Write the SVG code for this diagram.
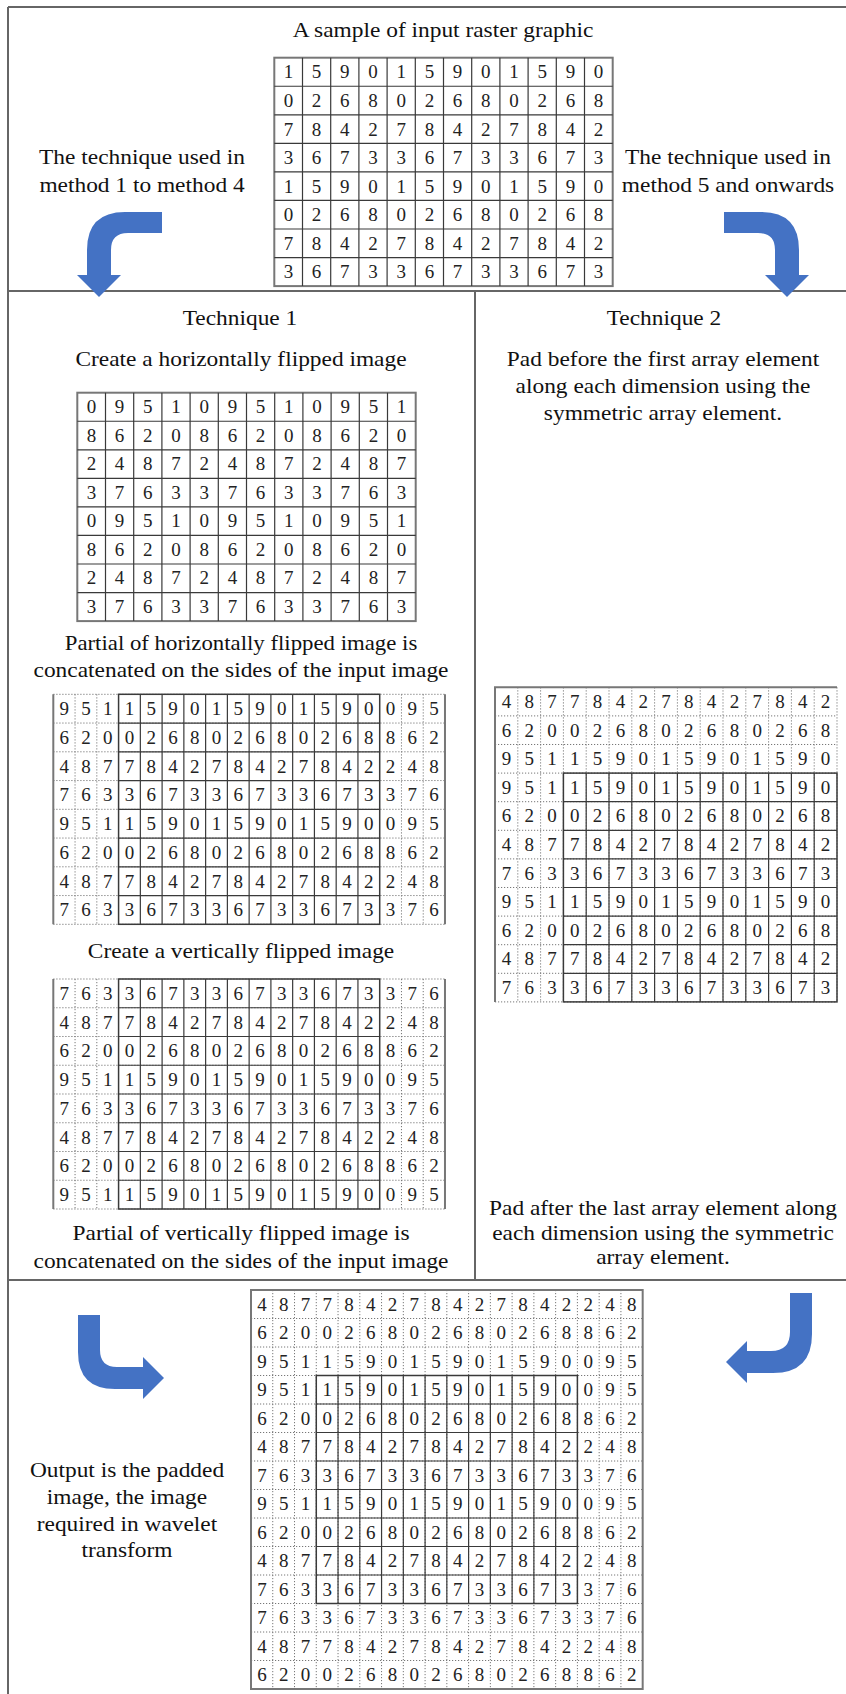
<svg xmlns="http://www.w3.org/2000/svg" xmlns:xlink="http://www.w3.org/1999/xlink" width="846" height="1694" viewBox="0 0 846 1694">
<style>
.t{font-family:"Liberation Serif","Times New Roman",serif;font-size:20px;fill:#111;text-anchor:middle}
.d{font-family:"Liberation Serif","Times New Roman",serif;font-size:19px;fill:#222;text-anchor:middle}
.fr{stroke:#666;stroke-width:2;fill:none}
.sl{stroke:#3a3a3a;stroke-width:1.2;fill:none}
.ob{stroke:#777;stroke-width:2;fill:none}
.dt{stroke:#777;stroke-width:1;stroke-dasharray:1.2 1.8;fill:none}
.ar{fill:#4472C4}
</style>
<defs>
<g id="g12">
<rect class="ob" x="0" y="0" width="338.4" height="228.4"/>
<path class="sl" d="M28.2 0V228.4M56.4 0V228.4M84.6 0V228.4M112.8 0V228.4M141 0V228.4M169.2 0V228.4M197.4 0V228.4M225.6 0V228.4M253.8 0V228.4M282 0V228.4M310.2 0V228.4M0 28.55H338.4M0 57.1H338.4M0 85.65H338.4M0 114.2H338.4M0 142.75H338.4M0 171.3H338.4M0 199.85H338.4"/>
</g>
<g id="g18">
<path class="dt" d="M0 0H391.68M0 28.75H391.68M0 57.5H391.68M0 86.25H391.68M0 115H391.68M0 143.75H391.68M0 172.5H391.68M0 201.25H391.68M0 230H391.68M21.76 0V230M43.52 0V230M348.16 0V230M369.92 0V230"/>
<rect class="sl" x="65.28" y="0" width="261.12" height="230" style="stroke-width:1.5"/>
<path class="sl" d="M87.04 0V230M108.8 0V230M130.56 0V230M152.32 0V230M174.08 0V230M195.84 0V230M217.6 0V230M239.36 0V230M261.12 0V230M282.88 0V230M304.64 0V230M65.28 28.75H326.4M65.28 57.5H326.4M65.28 86.25H326.4M65.28 115H326.4M65.28 143.75H326.4M65.28 172.5H326.4M65.28 201.25H326.4"/>
<path class="ob" d="M0 0V230M391.68 0V230"/>
</g>
</defs>

<g id="frame">
<path class="fr" d="M8 7H846M8 7V1694M8 291H846M8 1280H846M475 291V1280"/>
</g>

<g id="connectors">
<path class="ar" d="M162 212L125 212Q87 212 87 250L87 275L77 275L99 297L121 275L111 275L111 250Q111 233 128 233L162 233Z"/>
<path class="ar" d="M724 212L761 212Q799 212 799 250L799 275L809 275L787 297L765 275L775 275L775 250Q775 233 758 233L724 233Z"/>
<path class="ar" d="M78 1315L100 1315L100 1350Q100 1367 117 1367L143 1367L143 1357L164 1378L143 1399L143 1389L115 1389Q78 1389 78 1352Z"/>
<path class="ar" d="M812 1293L790 1293L790 1332Q790 1351 771 1351L747 1351L747 1341L726 1362L747 1383L747 1373L773 1373Q812 1373 812 1334Z"/>
</g>

<g id="input-raster">
<text class="t" transform="translate(443,37) scale(1.17,1)">A sample of input raster graphic</text>
<g transform="translate(274.3,57.7)">
<use xlink:href="#g12"/>
<text class="d" x="14.1 42.3 70.5 98.7 126.9 155.1 183.3 211.5 239.7 267.9 296.1 324.3" y="20.8">159015901590</text>
<text class="d" x="14.1 42.3 70.5 98.7 126.9 155.1 183.3 211.5 239.7 267.9 296.1 324.3" y="49.35">026802680268</text>
<text class="d" x="14.1 42.3 70.5 98.7 126.9 155.1 183.3 211.5 239.7 267.9 296.1 324.3" y="77.9">784278427842</text>
<text class="d" x="14.1 42.3 70.5 98.7 126.9 155.1 183.3 211.5 239.7 267.9 296.1 324.3" y="106.45">367336733673</text>
<text class="d" x="14.1 42.3 70.5 98.7 126.9 155.1 183.3 211.5 239.7 267.9 296.1 324.3" y="135">159015901590</text>
<text class="d" x="14.1 42.3 70.5 98.7 126.9 155.1 183.3 211.5 239.7 267.9 296.1 324.3" y="163.55">026802680268</text>
<text class="d" x="14.1 42.3 70.5 98.7 126.9 155.1 183.3 211.5 239.7 267.9 296.1 324.3" y="192.1">784278427842</text>
<text class="d" x="14.1 42.3 70.5 98.7 126.9 155.1 183.3 211.5 239.7 267.9 296.1 324.3" y="220.65">367336733673</text>
</g>
</g>

<g id="label-left">
<text class="t" transform="translate(142,164) scale(1.17,1)">The technique used in</text>
<text class="t" transform="translate(142,192) scale(1.17,1)">method 1 to method 4</text>
</g>
<g id="label-right">
<text class="t" transform="translate(728,164) scale(1.17,1)">The technique used in</text>
<text class="t" transform="translate(728,192) scale(1.17,1)">method 5 and onwards</text>
</g>

<g id="technique1-hflip">
<text class="t" transform="translate(240,325) scale(1.17,1)">Technique 1</text>
<text class="t" transform="translate(241,366) scale(1.17,1)">Create a horizontally flipped image</text>
<g transform="translate(77.3,392.7)">
<use xlink:href="#g12"/>
<text class="d" x="14.1 42.3 70.5 98.7 126.9 155.1 183.3 211.5 239.7 267.9 296.1 324.3" y="20.8">095109510951</text>
<text class="d" x="14.1 42.3 70.5 98.7 126.9 155.1 183.3 211.5 239.7 267.9 296.1 324.3" y="49.3">862086208620</text>
<text class="d" x="14.1 42.3 70.5 98.7 126.9 155.1 183.3 211.5 239.7 267.9 296.1 324.3" y="77.8">248724872487</text>
<text class="d" x="14.1 42.3 70.5 98.7 126.9 155.1 183.3 211.5 239.7 267.9 296.1 324.3" y="106.3">376337633763</text>
<text class="d" x="14.1 42.3 70.5 98.7 126.9 155.1 183.3 211.5 239.7 267.9 296.1 324.3" y="134.8">095109510951</text>
<text class="d" x="14.1 42.3 70.5 98.7 126.9 155.1 183.3 211.5 239.7 267.9 296.1 324.3" y="163.3">862086208620</text>
<text class="d" x="14.1 42.3 70.5 98.7 126.9 155.1 183.3 211.5 239.7 267.9 296.1 324.3" y="191.8">248724872487</text>
<text class="d" x="14.1 42.3 70.5 98.7 126.9 155.1 183.3 211.5 239.7 267.9 296.1 324.3" y="220.3">376337633763</text>
</g>
</g>

<g id="technique1-hconcat">
<text class="t" transform="translate(241,650) scale(1.14,1)">Partial of horizontally flipped image is</text>
<text class="t" transform="translate(241,677) scale(1.17,1)">concatenated on the sides of the input image</text>
<g transform="translate(53.3,694.3)">
<use xlink:href="#g18"/>
<text class="d" x="10.88 32.64 54.4 76.16 97.92 119.68 141.44 163.2 184.96 206.72 228.48 250.24 272 293.76 315.52 337.28 359.04 380.8" y="20.8">951159015901590095</text>
<text class="d" x="10.88 32.64 54.4 76.16 97.92 119.68 141.44 163.2 184.96 206.72 228.48 250.24 272 293.76 315.52 337.28 359.04 380.8" y="49.55">620026802680268862</text>
<text class="d" x="10.88 32.64 54.4 76.16 97.92 119.68 141.44 163.2 184.96 206.72 228.48 250.24 272 293.76 315.52 337.28 359.04 380.8" y="78.3">487784278427842248</text>
<text class="d" x="10.88 32.64 54.4 76.16 97.92 119.68 141.44 163.2 184.96 206.72 228.48 250.24 272 293.76 315.52 337.28 359.04 380.8" y="107.05">763367336733673376</text>
<text class="d" x="10.88 32.64 54.4 76.16 97.92 119.68 141.44 163.2 184.96 206.72 228.48 250.24 272 293.76 315.52 337.28 359.04 380.8" y="135.8">951159015901590095</text>
<text class="d" x="10.88 32.64 54.4 76.16 97.92 119.68 141.44 163.2 184.96 206.72 228.48 250.24 272 293.76 315.52 337.28 359.04 380.8" y="164.55">620026802680268862</text>
<text class="d" x="10.88 32.64 54.4 76.16 97.92 119.68 141.44 163.2 184.96 206.72 228.48 250.24 272 293.76 315.52 337.28 359.04 380.8" y="193.3">487784278427842248</text>
<text class="d" x="10.88 32.64 54.4 76.16 97.92 119.68 141.44 163.2 184.96 206.72 228.48 250.24 272 293.76 315.52 337.28 359.04 380.8" y="222.05">763367336733673376</text>
</g>
</g>

<g id="technique1-vconcat">
<text class="t" transform="translate(241,958) scale(1.17,1)">Create a vertically flipped image</text>
<g transform="translate(53.3,979)">
<use xlink:href="#g18"/>
<text class="d" x="10.88 32.64 54.4 76.16 97.92 119.68 141.44 163.2 184.96 206.72 228.48 250.24 272 293.76 315.52 337.28 359.04 380.8" y="20.8">763367336733673376</text>
<text class="d" x="10.88 32.64 54.4 76.16 97.92 119.68 141.44 163.2 184.96 206.72 228.48 250.24 272 293.76 315.52 337.28 359.04 380.8" y="49.55">487784278427842248</text>
<text class="d" x="10.88 32.64 54.4 76.16 97.92 119.68 141.44 163.2 184.96 206.72 228.48 250.24 272 293.76 315.52 337.28 359.04 380.8" y="78.3">620026802680268862</text>
<text class="d" x="10.88 32.64 54.4 76.16 97.92 119.68 141.44 163.2 184.96 206.72 228.48 250.24 272 293.76 315.52 337.28 359.04 380.8" y="107.05">951159015901590095</text>
<text class="d" x="10.88 32.64 54.4 76.16 97.92 119.68 141.44 163.2 184.96 206.72 228.48 250.24 272 293.76 315.52 337.28 359.04 380.8" y="135.8">763367336733673376</text>
<text class="d" x="10.88 32.64 54.4 76.16 97.92 119.68 141.44 163.2 184.96 206.72 228.48 250.24 272 293.76 315.52 337.28 359.04 380.8" y="164.55">487784278427842248</text>
<text class="d" x="10.88 32.64 54.4 76.16 97.92 119.68 141.44 163.2 184.96 206.72 228.48 250.24 272 293.76 315.52 337.28 359.04 380.8" y="193.3">620026802680268862</text>
<text class="d" x="10.88 32.64 54.4 76.16 97.92 119.68 141.44 163.2 184.96 206.72 228.48 250.24 272 293.76 315.52 337.28 359.04 380.8" y="222.05">951159015901590095</text>
</g>
<text class="t" transform="translate(241,1240) scale(1.17,1)">Partial of vertically flipped image is</text>
<text class="t" transform="translate(241,1268) scale(1.17,1)">concatenated on the sides of the input image</text>
</g>

<g id="technique2-pad-before">
<text class="t" transform="translate(664,325) scale(1.17,1)">Technique 2</text>
<text class="t" transform="translate(663,366) scale(1.17,1)">Pad before the first array element</text>
<text class="t" transform="translate(663,393) scale(1.17,1)">along each dimension using the</text>
<text class="t" transform="translate(663,420) scale(1.17,1)">symmetric array element.</text>
<g transform="translate(495,687.3)">
<path class="dt" d="M0 28.6H342M0 57.2H342M0 85.8H342M0 114.4H342M0 143H342M0 171.6H342M0 200.2H342M0 228.8H342M0 257.4H342M0 286H342M0 314.6H342M22.8 0V314.6M45.6 0V314.6M68.4 0V314.6M91.2 0V314.6M114 0V314.6M136.8 0V314.6M159.6 0V314.6M182.4 0V314.6M205.2 0V314.6M228 0V314.6M250.8 0V314.6M273.6 0V314.6M296.4 0V314.6M319.2 0V314.6M342 0V314.6"/>
<rect class="sl" x="68.4" y="85.8" width="273.6" height="228.8" style="stroke-width:1.5"/>
<path class="sl" d="M91.2 85.8V314.6M114 85.8V314.6M136.8 85.8V314.6M159.6 85.8V314.6M182.4 85.8V314.6M205.2 85.8V314.6M228 85.8V314.6M250.8 85.8V314.6M273.6 85.8V314.6M296.4 85.8V314.6M319.2 85.8V314.6M68.4 114.4H342M68.4 143H342M68.4 171.6H342M68.4 200.2H342M68.4 228.8H342M68.4 257.4H342M68.4 286H342"/>
<path class="ob" d="M0 314.6V0H342"/>
<text class="d" x="11.4 34.2 57 79.8 102.6 125.4 148.2 171 193.8 216.6 239.4 262.2 285 307.8 330.6" y="20.7">487784278427842</text>
<text class="d" x="11.4 34.2 57 79.8 102.6 125.4 148.2 171 193.8 216.6 239.4 262.2 285 307.8 330.6" y="49.3">620026802680268</text>
<text class="d" x="11.4 34.2 57 79.8 102.6 125.4 148.2 171 193.8 216.6 239.4 262.2 285 307.8 330.6" y="77.9">951159015901590</text>
<text class="d" x="11.4 34.2 57 79.8 102.6 125.4 148.2 171 193.8 216.6 239.4 262.2 285 307.8 330.6" y="106.5">951159015901590</text>
<text class="d" x="11.4 34.2 57 79.8 102.6 125.4 148.2 171 193.8 216.6 239.4 262.2 285 307.8 330.6" y="135.1">620026802680268</text>
<text class="d" x="11.4 34.2 57 79.8 102.6 125.4 148.2 171 193.8 216.6 239.4 262.2 285 307.8 330.6" y="163.7">487784278427842</text>
<text class="d" x="11.4 34.2 57 79.8 102.6 125.4 148.2 171 193.8 216.6 239.4 262.2 285 307.8 330.6" y="192.3">763367336733673</text>
<text class="d" x="11.4 34.2 57 79.8 102.6 125.4 148.2 171 193.8 216.6 239.4 262.2 285 307.8 330.6" y="220.9">951159015901590</text>
<text class="d" x="11.4 34.2 57 79.8 102.6 125.4 148.2 171 193.8 216.6 239.4 262.2 285 307.8 330.6" y="249.5">620026802680268</text>
<text class="d" x="11.4 34.2 57 79.8 102.6 125.4 148.2 171 193.8 216.6 239.4 262.2 285 307.8 330.6" y="278.1">487784278427842</text>
<text class="d" x="11.4 34.2 57 79.8 102.6 125.4 148.2 171 193.8 216.6 239.4 262.2 285 307.8 330.6" y="306.7">763367336733673</text>
</g>
</g>

<g id="technique2-pad-after">
<text class="t" transform="translate(663,1215) scale(1.17,1)">Pad after the last array element along</text>
<text class="t" transform="translate(663,1240) scale(1.17,1)">each dimension using the symmetric</text>
<text class="t" transform="translate(663,1264) scale(1.17,1)">array element.</text>
</g>

<g id="output-label">
<text class="t" transform="translate(127,1477) scale(1.17,1)">Output is the padded</text>
<text class="t" transform="translate(127,1504) scale(1.17,1)">image, the image</text>
<text class="t" transform="translate(127,1531) scale(1.17,1)">required in wavelet</text>
<text class="t" transform="translate(127,1557) scale(1.17,1)">transform</text>
</g>

<g id="output-padded">
<g transform="translate(251,1290)">
<path class="dt" d="M21.76 0V399M43.52 0V399M65.28 0V399M87.04 0V399M108.8 0V399M130.56 0V399M152.32 0V399M174.08 0V399M195.84 0V399M217.6 0V399M239.36 0V399M261.12 0V399M282.88 0V399M304.64 0V399M326.4 0V399M348.16 0V399M369.92 0V399M0 28.5H391.68M0 57H391.68M0 85.5H391.68M0 114H391.68M0 142.5H391.68M0 171H391.68M0 199.5H391.68M0 228H391.68M0 256.5H391.68M0 285H391.68M0 313.5H391.68M0 342H391.68M0 370.5H391.68"/>
<rect class="sl" x="65.28" y="85.5" width="261.12" height="228" style="stroke-width:1.5"/>
<path class="sl" d="M87.04 85.5V313.5M108.8 85.5V313.5M130.56 85.5V313.5M152.32 85.5V313.5M174.08 85.5V313.5M195.84 85.5V313.5M217.6 85.5V313.5M239.36 85.5V313.5M261.12 85.5V313.5M282.88 85.5V313.5M304.64 85.5V313.5M65.28 114H326.4M65.28 142.5H326.4M65.28 171H326.4M65.28 199.5H326.4M65.28 228H326.4M65.28 256.5H326.4M65.28 285H326.4"/>
<rect class="ob" x="0" y="0" width="391.68" height="399"/>
<text class="d" x="10.88 32.64 54.4 76.16 97.92 119.68 141.44 163.2 184.96 206.72 228.48 250.24 272 293.76 315.52 337.28 359.04 380.8" y="20.65">487784278427842248</text>
<text class="d" x="10.88 32.64 54.4 76.16 97.92 119.68 141.44 163.2 184.96 206.72 228.48 250.24 272 293.76 315.52 337.28 359.04 380.8" y="49.15">620026802680268862</text>
<text class="d" x="10.88 32.64 54.4 76.16 97.92 119.68 141.44 163.2 184.96 206.72 228.48 250.24 272 293.76 315.52 337.28 359.04 380.8" y="77.65">951159015901590095</text>
<text class="d" x="10.88 32.64 54.4 76.16 97.92 119.68 141.44 163.2 184.96 206.72 228.48 250.24 272 293.76 315.52 337.28 359.04 380.8" y="106.15">951159015901590095</text>
<text class="d" x="10.88 32.64 54.4 76.16 97.92 119.68 141.44 163.2 184.96 206.72 228.48 250.24 272 293.76 315.52 337.28 359.04 380.8" y="134.65">620026802680268862</text>
<text class="d" x="10.88 32.64 54.4 76.16 97.92 119.68 141.44 163.2 184.96 206.72 228.48 250.24 272 293.76 315.52 337.28 359.04 380.8" y="163.15">487784278427842248</text>
<text class="d" x="10.88 32.64 54.4 76.16 97.92 119.68 141.44 163.2 184.96 206.72 228.48 250.24 272 293.76 315.52 337.28 359.04 380.8" y="191.65">763367336733673376</text>
<text class="d" x="10.88 32.64 54.4 76.16 97.92 119.68 141.44 163.2 184.96 206.72 228.48 250.24 272 293.76 315.52 337.28 359.04 380.8" y="220.15">951159015901590095</text>
<text class="d" x="10.88 32.64 54.4 76.16 97.92 119.68 141.44 163.2 184.96 206.72 228.48 250.24 272 293.76 315.52 337.28 359.04 380.8" y="248.65">620026802680268862</text>
<text class="d" x="10.88 32.64 54.4 76.16 97.92 119.68 141.44 163.2 184.96 206.72 228.48 250.24 272 293.76 315.52 337.28 359.04 380.8" y="277.15">487784278427842248</text>
<text class="d" x="10.88 32.64 54.4 76.16 97.92 119.68 141.44 163.2 184.96 206.72 228.48 250.24 272 293.76 315.52 337.28 359.04 380.8" y="305.65">763367336733673376</text>
<text class="d" x="10.88 32.64 54.4 76.16 97.92 119.68 141.44 163.2 184.96 206.72 228.48 250.24 272 293.76 315.52 337.28 359.04 380.8" y="334.15">763367336733673376</text>
<text class="d" x="10.88 32.64 54.4 76.16 97.92 119.68 141.44 163.2 184.96 206.72 228.48 250.24 272 293.76 315.52 337.28 359.04 380.8" y="362.65">487784278427842248</text>
<text class="d" x="10.88 32.64 54.4 76.16 97.92 119.68 141.44 163.2 184.96 206.72 228.48 250.24 272 293.76 315.52 337.28 359.04 380.8" y="391.15">620026802680268862</text>
</g>
</g>
</svg>
